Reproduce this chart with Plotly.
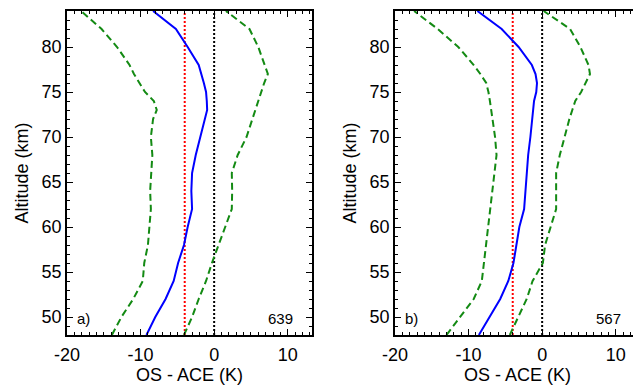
import plotly.graph_objects as go

# ---------------- data ----------------
altitude = [48, 50, 52, 54, 56, 58, 60, 62, 64, 66, 68, 70, 72, 73, 74, 75, 76, 77, 78, 80, 82, 84]

# panel a) (639 coincidences)
a_mean = [-9.2, -8.0, -6.6, -5.5, -4.9, -4.1, -3.6, -3.0, -3.1, -3.0, -2.5, -1.9, -1.3, -0.95, -1.0, -1.1, -1.4, -1.7, -2.1, -3.6, -5.2, -8.3]
a_low = [-13.9, -12.6, -11.0, -9.7, -9.5, -9.0, -8.8, -8.6, -8.7, -8.6, -8.4, -8.6, -8.3, -7.8, -8.2, -9.4, -10.2, -10.9, -11.5, -13.2, -15.3, -18.1]
a_high = [-4.1, -3.0, -2.1, -1.1, -0.3, 0.6, 1.5, 2.4, 2.45, 2.4, 3.2, 4.4, 5.2, 5.6, 6.0, 6.3, 6.8, 7.3, 6.9, 6.0, 4.8, 1.6]
a_bias = -4.0
a_label = "a)"
a_count = "639"

# panel b) (567 coincidences)
b_mean = [-8.6, -7.1, -5.7, -4.6, -3.9, -3.5, -3.1, -2.45, -2.25, -2.15, -1.9, -1.6, -1.4, -1.3, -1.1, -0.8, -0.7, -0.9, -1.4, -3.2, -5.5, -8.8]
b_low = [-13.0, -11.2, -9.3, -8.2, -7.9, -7.6, -7.3, -7.0, -6.8, -6.4, -6.2, -6.4, -6.7, -6.9, -7.1, -7.3, -7.6, -8.4, -9.3, -11.4, -14.2, -17.4]
b_high = [-4.4, -3.2, -2.1, -1.3, 0.1, 0.4, 1.1, 1.9, 1.9, 1.9, 2.4, 3.0, 3.7, 4.1, 4.5, 5.3, 5.9, 6.5, 6.3, 5.2, 3.8, 0.2]
b_bias = -4.0
b_label = "b)"
b_count = "567"

zero_ref = 0.0
x_range = [-20, 13.3]
y_range = [48, 84]
x_ticks = [-20, -10, 0, 10]
x_tick_labels = ["-20", "-10", "0", "10"]
y_ticks = [50, 55, 60, 65, 70, 75, 80]
y_tick_labels = ["50", "55", "60", "65", "70", "75", "80"]
x_title = "OS - ACE (K)"
y_title = "Altitude (km)"

# ---------------- figure ----------------
OFF = 8                     # page body margin of the written html
W, H = 641 - OFF, 385 - OFF
FONT = "Liberation Sans, Arial, sans-serif"
fig = go.Figure()

panels = [
    (a_mean, a_low, a_high, a_bias, a_label, a_count, "x", "y", [(67 - OFF) / W, (312 - OFF) / W]),
    (b_mean, b_low, b_high, b_bias, b_label, b_count, "x2", "y2", [(395 - OFF) / W, (640 - OFF) / W]),
]
ydom = [(H - (335 - OFF)) / H, (H - (11 - OFF)) / H]

for mean, low, high, bias, lab, cnt, xa, ya, xdom in panels:
    fig.add_trace(go.Scatter(x=[zero_ref, zero_ref], y=y_range, mode="lines",
                             line=dict(color="black", width=2, dash="2px,2px"),
                             xaxis=xa, yaxis=ya, showlegend=False))
    fig.add_trace(go.Scatter(x=[bias, bias], y=y_range, mode="lines",
                             line=dict(color="red", width=2, dash="2px,2px"),
                             xaxis=xa, yaxis=ya, showlegend=False))
    for s in (low, high):
        fig.add_trace(go.Scatter(x=s, y=altitude, mode="lines",
                                 line=dict(color="#138a13", width=2, dash="7px,4px"),
                                 xaxis=xa, yaxis=ya, showlegend=False))
    fig.add_trace(go.Scatter(x=mean, y=altitude, mode="lines",
                             line=dict(color="#0000ff", width=2),
                             xaxis=xa, yaxis=ya, showlegend=False))
    xref_d = xa + " domain"
    yref_d = ya + " domain"
    fig.add_annotation(text=lab, x=0.033, y=0.05, xref=xref_d, yref=yref_d,
                       xanchor="left", yanchor="middle", showarrow=False,
                       font=dict(size=15, color="black", family=FONT))
    fig.add_annotation(text=cnt, x=0.93, y=0.05, xref=xref_d, yref=yref_d,
                       xanchor="right", yanchor="middle", showarrow=False,
                       font=dict(size=15, color="black", family=FONT))

    axis_common = dict(showline=True, linecolor="black", linewidth=1.5, mirror="allticks",
                       ticks="inside", ticklen=6, tickwidth=1, tickcolor="black",
                       showgrid=False, zeroline=False,
                       tickfont=dict(size=18, color="black", family=FONT),
                       automargin=False)
    xkey = "xaxis" if xa == "x" else "xaxis2"
    ykey = "yaxis" if ya == "y" else "yaxis2"
    fig.update_layout(**{
        xkey: dict(axis_common, domain=xdom, range=x_range, tickvals=x_ticks, ticktext=x_tick_labels,
                   minor=dict(ticks="inside", dtick=1, ticklen=3, tickcolor="black"),
                   anchor=ya, ticklabelstandoff=3,
                   title=dict(text=x_title, font=dict(size=18, color="black", family=FONT), standoff=0)),
        ykey: dict(axis_common, domain=ydom, range=y_range, tickvals=y_ticks, ticktext=y_tick_labels,
                   minor=dict(ticks="inside", dtick=1, ticklen=3, tickcolor="black"),
                   anchor=xa,
                   title=dict(text=y_title, font=dict(size=18, color="black", family=FONT), standoff=8)),
    })

fig.update_layout(width=W, height=H, margin=dict(l=0, r=0, t=0, b=0),
                  plot_bgcolor="white", paper_bgcolor="white", showlegend=False)

fig.write_html("out.html")
